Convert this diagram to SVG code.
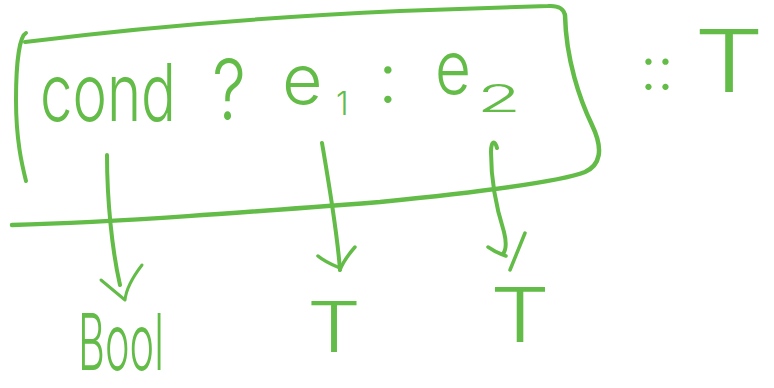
<svg xmlns="http://www.w3.org/2000/svg" width="774" height="388" viewBox="0 0 774 388">
<style>
.ink{fill:none;stroke:#62bc47;stroke-width:4;stroke-linecap:round;stroke-linejoin:round}
.t{fill:#62bc47;font-family:Inter,"Open Sans","Liberation Sans",sans-serif;font-weight:300}
</style>
<rect width="774" height="388" fill="#ffffff"/>
<g id="expr">
<path class="ink" d="M26,33 C20,36 16,60 16,100 C16,140 22,165 26,181"/>
<path class="ink" d="M25,42 Q200,20 400,11 L548,6 Q563,5 565,15"/>
<path class="ink" d="M565,15 C566,60 580,100 592,125 C604,150 600,165 585,172 C560,182 480,192 380,202 C250,212 120,222 12,225" style="stroke-width:4.5"/>
<text class="t" transform="translate(40,121) scale(0.72,1)" font-size="80" textLength="189" lengthAdjust="spacingAndGlyphs">cond</text>
<text class="t" transform="translate(229,120) scale(0.8,1)" font-size="84" text-anchor="middle" textLength="42" lengthAdjust="spacingAndGlyphs">?</text>
<text class="t" x="282" y="104" font-size="70">e</text>
<text class="t" x="336" y="115" font-size="32">1</text>
<text class="t" x="378" y="103" font-size="70">:</text>
<text class="t" x="435" y="94" font-size="74" textLength="36" lengthAdjust="spacingAndGlyphs">e</text>
<text class="t" x="477" y="112" font-size="38" textLength="44" lengthAdjust="spacingAndGlyphs">2</text>
</g>
<g id="type-T">
<text class="t" x="640" y="90" font-size="60">::</text>
<text class="t" x="729" y="92" font-size="86" text-anchor="middle" textLength="70" lengthAdjust="spacingAndGlyphs">T</text>
</g>
<g id="connectors">
<path class="ink" d="M107,155 C107,200 112,250 120,285"/>
<path class="ink" d="M101,280 L125,300 M142,265 C132,278 126,290 125,300" style="stroke-width:3"/>
<path class="ink" d="M322,143 C330,190 337,230 340,270"/>
<path class="ink" d="M318,256 C325,262 333,265 340,268 M355,247 C348,255 343,262 340,270" style="stroke-width:3.5"/>
<path class="ink" d="M497,148 C495,140 491,140 491,152 C491,180 497,210 504,232 C507,244 506,250 503,254"/>
<path class="ink" d="M488,247 C495,252 500,254 506,256 M525,233 L510,270" style="stroke-width:3.5"/>
</g>
<g id="bool">
<text class="t" transform="translate(78,370) scale(0.53,1)" font-size="78" textLength="162" lengthAdjust="spacingAndGlyphs">Bool</text>
</g>
<g id="t1">
<text class="t" x="334" y="352" font-size="70" text-anchor="middle" textLength="54" lengthAdjust="spacingAndGlyphs">T</text>
</g>
<g id="t2">
<text class="t" x="520" y="342" font-size="76" text-anchor="middle" textLength="60" lengthAdjust="spacingAndGlyphs">T</text>
</g>
</svg>
